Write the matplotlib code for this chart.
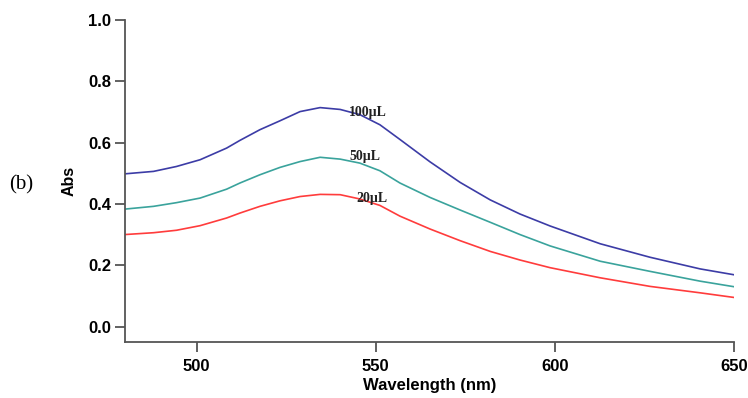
import matplotlib
matplotlib.use("Agg")
from matplotlib import pyplot as plt

# Absorbance spectra
wavelength = [480, 488, 494.4, 501, 508.4, 512.1, 517.7, 523.3, 528.9, 534.5, 540.1,
              545.6, 551.2, 556.8, 565.2, 573.6, 582, 590.3, 598.7, 612.7, 626.6,
              640.6, 650]
abs_100 = [0.498, 0.506, 0.522, 0.544, 0.582, 0.607, 0.642, 0.671, 0.701, 0.714, 0.708,
           0.691, 0.658, 0.610, 0.537, 0.470, 0.413, 0.367, 0.328, 0.270, 0.226,
           0.188, 0.169]
abs_50 = [0.383, 0.392, 0.404, 0.419, 0.448, 0.468, 0.495, 0.519, 0.538, 0.552, 0.546,
          0.533, 0.508, 0.468, 0.421, 0.380, 0.340, 0.300, 0.263, 0.213, 0.180,
          0.148, 0.130]
abs_20 = [0.300, 0.306, 0.314, 0.329, 0.354, 0.370, 0.392, 0.410, 0.424, 0.431, 0.430,
          0.416, 0.395, 0.360, 0.318, 0.280, 0.245, 0.217, 0.192, 0.159, 0.131,
          0.110, 0.095]

labels = ["100\u00b5L", "50\u00b5L", "20\u00b5L"]
label_pos = [(542.6, 0.698), (542.6, 0.553), (544.6, 0.418)]
colors = ["#3c3ca6", "#3aa39c", "#ff3c3c"]

fig = plt.figure(figsize=(7.48, 3.98), dpi=100)
ax = fig.add_axes([0.167, 0.141, 0.814, 0.809])

for series, c in zip([abs_100, abs_50, abs_20], colors):
    ax.plot(wavelength, series, color=c, lw=1.2)

for text, (x, y) in zip(labels, label_pos):
    ax.text(x, y, text, family="Liberation Serif", fontsize=10, fontweight="bold",
            ha="left", va="center", color="#222222")

ax.set_xlim(480, 650)
ax.set_ylim(-0.05, 1.0)
ax.set_xticks([500, 550, 600, 650])
ax.set_yticks([0.0, 0.2, 0.4, 0.6, 0.8, 1.0])
ax.yaxis.set_major_formatter(matplotlib.ticker.FormatStrFormatter("%.1f"))

for side in ["top", "right"]:
    ax.spines[side].set_visible(False)
for side in ["left", "bottom"]:
    ax.spines[side].set_color("#555555")
    ax.spines[side].set_linewidth(1.3)

ax.tick_params(direction="out", length=7, width=1.3, color="#555555",
               labelsize=12, pad=3)
ax.tick_params(axis="x", pad=5)
for lab in ax.get_xticklabels() + ax.get_yticklabels():
    lab.set_fontweight("bold")
    lab.set_family("Liberation Sans")

ax.set_xlabel("Wavelength (nm)", family="Liberation Sans", fontsize=12,
              fontweight="bold", labelpad=3)
ax.set_ylabel("Abs", family="Liberation Sans", fontsize=11.5, fontweight="bold",
              labelpad=8)

fig.text(0.012, 0.535, "(b)", family="Liberation Serif", fontsize=15,
         ha="left", va="center")

fig.savefig("out.png", dpi=100)
